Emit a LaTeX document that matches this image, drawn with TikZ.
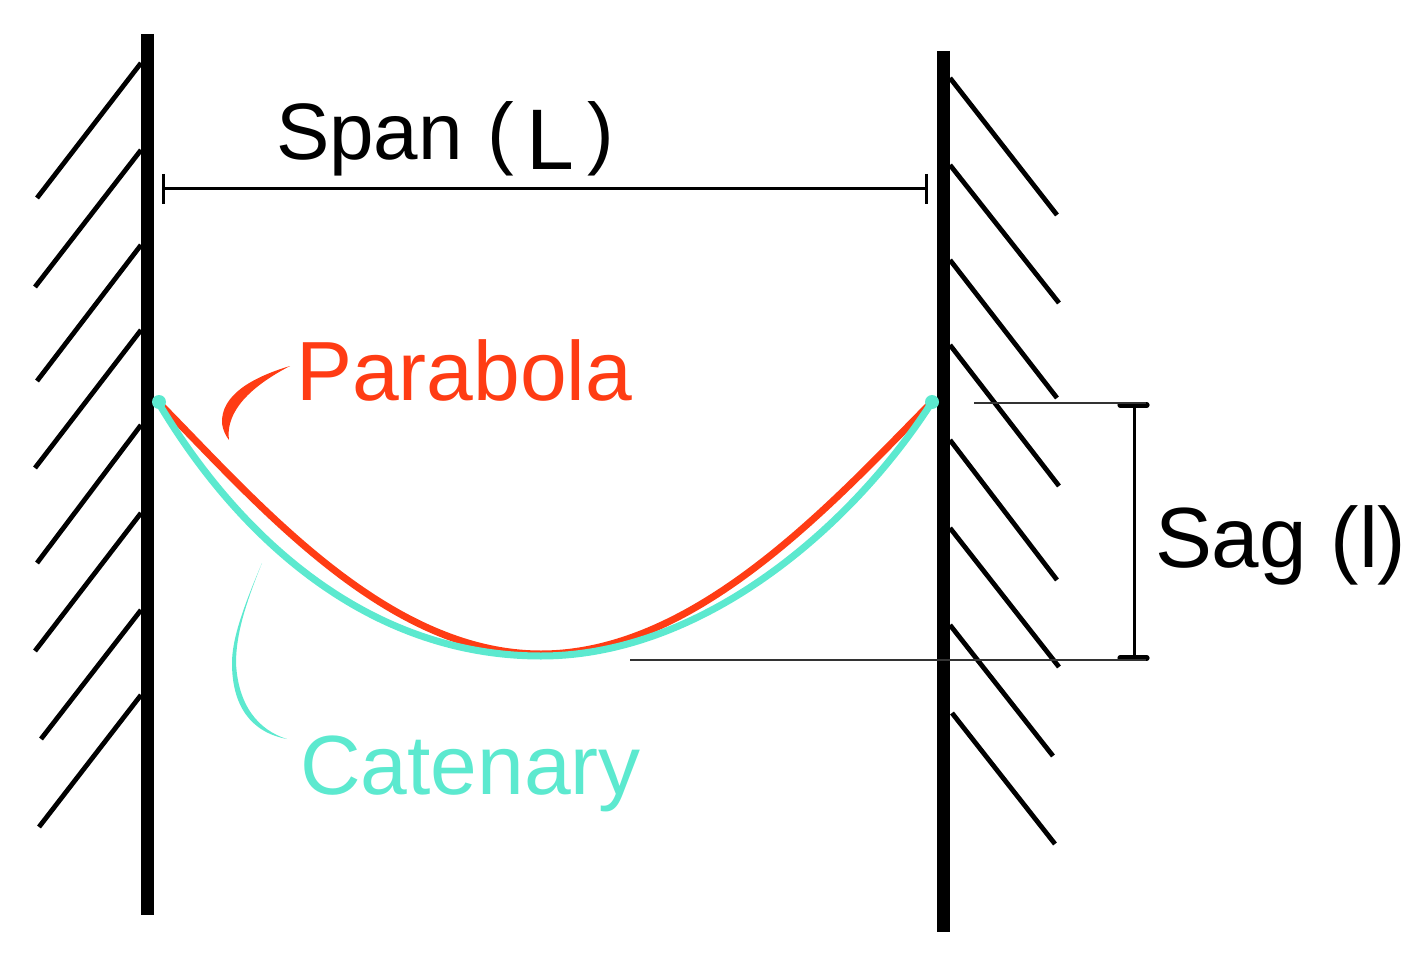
\documentclass[tikz,border=0pt]{standalone}
\usepackage{fontspec}
\setmainfont{Liberation Sans}
\definecolor{wirered}{HTML}{FF3C14}
\definecolor{wireteal}{HTML}{5CE9CF}
\tikzset{
  wall/.style={line width=6.5pt},
  hatch/.style={line width=2.4pt},
  dimline/.style={line width=1.5pt},
  thinline/.style={line width=1pt,draw=black!80},
  sagtick/.style={line width=2.6pt,line cap=round},
  lbl/.style={anchor=base west,inner sep=0pt,outer sep=0pt},
  blacklbl/.style={lbl,font=\fontsize{40}{44}\selectfont,text=black},
  redwire/.style={line width=3.5pt,draw=wirered},
  tealwire/.style={line width=3.5pt,draw=wireteal}
}
\begin{document}
\begin{tikzpicture}[x=0.5pt,y=-0.5pt]
\useasboundingbox (0,0) rectangle (1408,968);
% walls
\draw[wall] (147.5,34) -- (147.5,915);
\draw[wall] (943.5,51) -- (943.5,932);
% left hatching
\foreach \a/\b/\c/\d in {141/63/37/198,141/150/35/287,141/245/37/381,141/330/35/468,141/425/37/563,141/513/35/651,141/610/41/739,141/695/39/827}
  \draw[hatch] (\a,\b) -- (\c,\d);
% right hatching
\foreach \a/\b/\c/\d in {950/78/1057/215,950/165/1059/303,950/260/1057/398,950/345/1059/486,950/440/1057/580,950/528/1059/667,950/625/1053/756,952/713/1055/844}
  \draw[hatch] (\a,\b) -- (\c,\d);
% span
\coordinate (spanL) at (163,188.5);
\coordinate (spanR) at (926,188.5);
\draw[dimline] (spanL) -- (spanR);
\draw[dimline] (163,174) -- (163,204);
\draw[dimline] (926,174) -- (926,204);
% sag
\coordinate (sagT) at (1134,404);
\coordinate (sagB) at (1134,659);
\draw[dimline] (sagT) -- (sagB);
\draw[sagtick] (1120,405) -- (1147,405);
\draw[sagtick] (1120,658) -- (1147,658);
\draw[thinline] (974,403) -- (1146,403);
\draw[thinline] (630,660) -- (1146,660);
% curves
\draw[redwire] (158,402) .. controls (255,500) and (385,654) .. (541,654)
   .. controls (697,654) and (835,500) .. (932,402);
\draw[tealwire] (158,402) .. controls (240,540) and (370,656) .. (541,656)
   .. controls (700,656) and (850,530) .. (932,402);
\fill[wireteal] (159,402) circle (7);
\fill[wireteal] (932,402) circle (7);
% leaders
\fill[wirered] (290,366) .. controls (250,378) and (221,396) .. (222,423)
   .. controls (223,431) and (226,436) .. (229,440)
   .. controls (226,418) and (240,392) .. (290,366) -- cycle;
\fill[wireteal] (262,563) .. controls (242,610) and (232,640) .. (232,663)
   .. controls (232,705) and (250,732) .. (287,739)
   .. controls (258,730) and (238,705) .. (236,663)
   .. controls (236,635) and (245,605) .. (262,563) -- cycle;
% labels
\node[blacklbl] (span) at (276,160) {Span\kern12.5pt(\kern6pt\raisebox{-5pt}{\fontsize{43}{44}\selectfont L}\kern6.5pt)};
\node[blacklbl,font=\fontsize{42.7}{46}\selectfont] (sag) at (1155,567) {Sag (l)};
\node[lbl,font=\fontsize{42}{46}\selectfont,text=wirered] (parabola) at (296,400) {Parabola};
\node[lbl,font=\fontsize{42}{46}\selectfont,text=wireteal] (catenary) at (300,794) {Catenary};
\end{tikzpicture}
\end{document}
